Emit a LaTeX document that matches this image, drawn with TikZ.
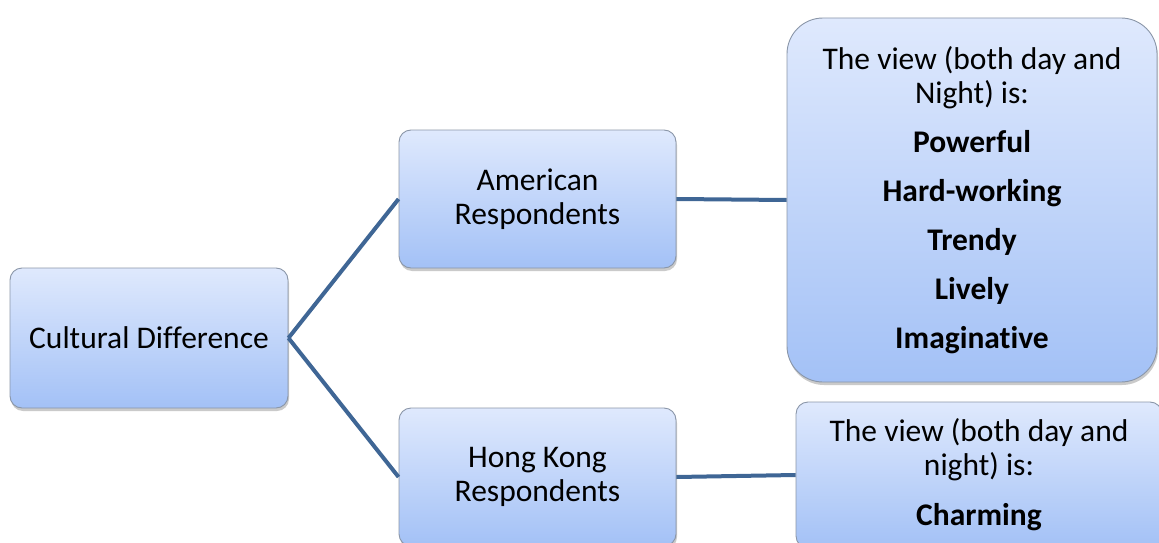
\documentclass[tikz,border=0pt]{standalone}
\usepackage{fontspec}
\setmainfont{Carlito}[Ligatures={NoCommon}]
\usetikzlibrary{shadows}
\definecolor{boxtop}{HTML}{DFE9FD}
\definecolor{boxbot}{HTML}{A3C1F6}
\definecolor{boxline}{HTML}{8A96A8}
\definecolor{conn}{HTML}{3F6695}
\tikzset{
  box/.style={draw=boxline, line width=0.9pt, top color=boxtop, bottom color=boxbot,
    rounded corners=12pt, align=center, inner sep=0pt,
    font=\fontsize{31.5}{34}\selectfont,
    drop shadow={shadow xshift=1pt, shadow yshift=-3pt, opacity=0.35, fill=black!60}},
  link/.style={draw=conn, line width=4pt}
}
\begin{document}
\begin{tikzpicture}[x=1pt,y=-1pt]
\useasboundingbox (0,0) rectangle (1159,543);
\clip (0,0) rectangle (1159,543);
\node[box, minimum width=278pt, minimum height=140pt] (cd) at (149,338) {Cultural Difference};
\node[box, minimum width=277pt, minimum height=138pt] (am) at (537.5,199) {American\\Respondents};
\node[box, minimum width=277pt, minimum height=138pt] (hk) at (537.5,477) {Hong Kong\\Respondents};
\node[box, rounded corners=36pt, minimum width=370pt, minimum height=364pt] (tr) at (972,200)
  {The view (both day and\\Night) is:\\[15pt]\textbf{Powerful}\\[15pt]\textbf{Hard-working}\\[15pt]\textbf{Trendy}\\[15pt]\textbf{Lively}\\[15pt]\textbf{Imaginative}};
\node[box, minimum width=366pt, minimum height=146pt] (br) at (979,475)
  {The view (both day and\\night) is:\\[16pt]\textbf{Charming}};
\draw[link] (cd.east) -- (am.west);
\draw[link] (cd.east) -- (hk.west);
\draw[link] (am.east) -- (tr.west);
\draw[link] (hk.east) -- (br.west);
\end{tikzpicture}
\end{document}
